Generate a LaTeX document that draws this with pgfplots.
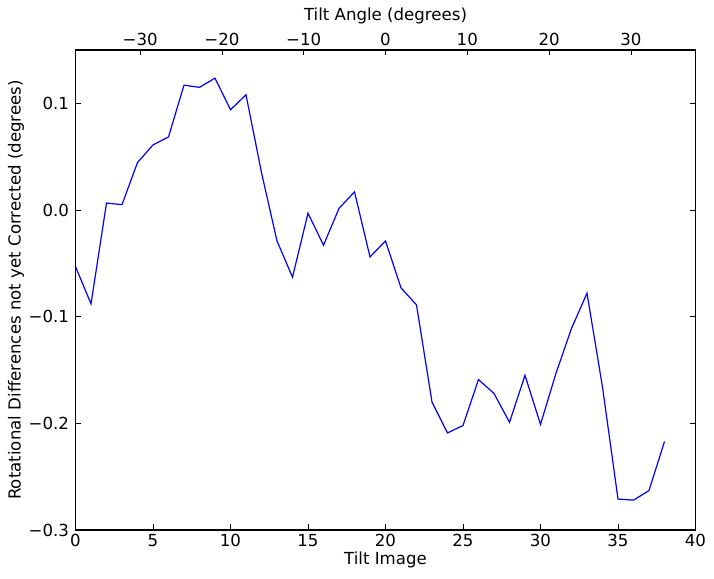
\documentclass[border=0pt]{standalone}
\usepackage{fontspec}
\setmainfont{DejaVu Sans}
\usepackage{pgfplots}
\pgfplotsset{compat=1.18}
\begin{document}
\begin{tikzpicture}[font=\fontsize{16.6bp}{20bp}\selectfont]
\useasboundingbox (-75.5bp,-49bp) rectangle (638.5bp,530bp);
\begin{axis}[
  at={(0,0)}, anchor=south west,
  scale only axis, width=620bp, height=480bp,
  xmin=0, xmax=40, ymin=-0.3, ymax=0.15,
  xtick={0,5,10,15,20,25,30,35,40},
  xticklabels={0,5,10,15,20,25,30,35,40},
  ytick={-0.3,-0.2,-0.1,0,0.1},
  yticklabels={−0.3,−0.2,−0.1,0.0,0.1},
  xtick pos=bottom, ytick pos=both,
  yticklabel pos=left,
  tick align=inside,
  major tick length=5.5bp,
  minor tick num=0,
  axis line style={line width=1.2bp},
  tick style={line width=0.7bp, black},
  xlabel={Tilt Image},
  ylabel={Rotational Differences not yet Corrected (degrees)},
  x label style={at={(axis description cs:0.5,-0.0625)}, anchor=center},
  y label style={at={(axis description cs:-0.096,0.5)}, anchor=center},
  xticklabel style={yshift=-1bp},
  yticklabel style={xshift=-3bp},
]
\addplot[blue, line width=1.2bp] coordinates {
(0,-0.053) (1,-0.088) (2,0.0065) (3,0.005) (4,0.0445) (5,0.061) (6,0.0685)
(7,0.117) (8,0.115) (9,0.1236) (10,0.094) (11,0.108) (12,0.035) (13,-0.029)
(14,-0.063) (15,-0.003) (16,-0.033) (17,0.0015) (18,0.017) (19,-0.044)
(20,-0.029) (21,-0.073) (22,-0.089) (23,-0.180) (24,-0.209) (25,-0.202)
(26,-0.159) (27,-0.172) (28,-0.199) (29,-0.155) (30,-0.201) (31,-0.153)
(32,-0.111) (33,-0.078) (34,-0.166) (35,-0.271) (36,-0.272) (37,-0.263)
(38,-0.217)
};
\end{axis}
\begin{axis}[
  at={(0,0)}, anchor=south west,
  scale only axis, width=620bp, height=480bp,
  xmin=-37.9, xmax=37.9, ymin=0, ymax=1,
  axis x line*=top, hide y axis,
  xtick={-30,-20,-10,0,10,20,30},
  xticklabels={−30,−20,−10,0,10,20,30},
  tick align=inside,
  major tick length=5.5bp,
  axis line style={line width=1.2bp},
  tick style={line width=0.7bp, black},
  xlabel={Tilt Angle (degrees)},
  x label style={at={(axis description cs:0.5,1.0708)}, anchor=center},
  xticklabel style={yshift=1bp},
]
\end{axis}
\end{tikzpicture}
\end{document}
